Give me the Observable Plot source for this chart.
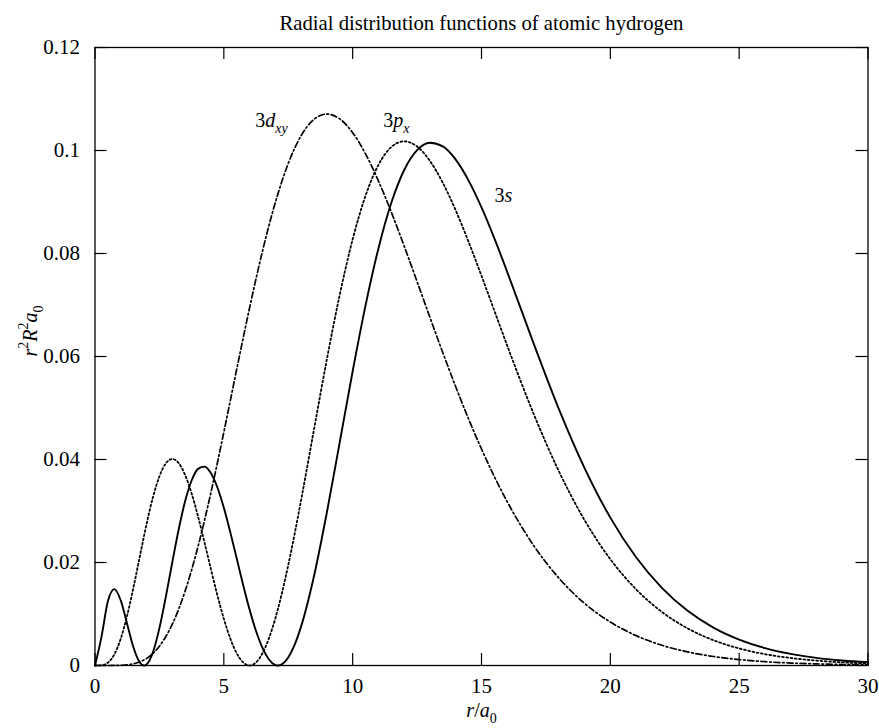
<!DOCTYPE html>
<html><head><meta charset="utf-8">
<script src="https://cdn.jsdelivr.net/npm/d3@7"></script>
<script src="https://cdn.jsdelivr.net/npm/@observablehq/plot@0.6"></script>
<style>html,body{margin:0;padding:0;background:#fff} svg{display:block}</style>
</head><body><div id="chart"></div>
<script>
// r / a0 sample positions
const rValues = [0,0.25,0.5,0.75,1,1.25,1.5,1.75,1.9,2,2.25,2.5,2.75,3,3.25,3.5,3.75,4,4.25,4.5,4.75,5,5.25,5.5,5.75,6,6.25,6.5,6.75,7,7.1,7.25,7.5,7.75,8,8.5,9,9.5,10,10.5,11,11.5,12,12.5,13,13.5,14,14.5,15,15.5,16,17,18,19,20,21,22,23,24,25,26,27,28,29,30];
// 3s
const s3Values = [0,0.00550,0.01246,0.01483,0.01263,0.00802,0.00341,0.00051,0,0.00021,0.00261,0.00726,0.01337,0.02005,0.02647,0.03193,0.03592,0.03818,0.03862,0.03734,0.03457,0.03063,0.02590,0.02078,0.01565,0.01085,0.00669,0.00341,0.00117,0.00009,0,0.00022,0.00156,0.00405,0.00760,0.01738,0.02975,0.04340,0.05713,0.06992,0.08099,0.08984,0.09622,0.10007,0.10151,0.10080,0.09823,0.09416,0.08895,0.08293,0.07640,0.06284,0.04984,0.03834,0.02871,0.02101,0.01507,0.01061,0.00735,0.00502,0.00338,0.00225,0.00148,0.00097,0.00062];
// 3p_x
const p3Values = [0,0.00004,0.00055,0.00215,0.00522,0.00973,0.01533,0.02144,0.02509,0.02743,0.03269,0.03673,0.03926,0.04010,0.03929,0.03697,0.03340,0.02892,0.02389,0.01867,0.01363,0.00906,0.00524,0.00238,0.00060,0,0.00060,0.00238,0.00527,0.00918,0.01099,0.01397,0.01950,0.02561,0.03215,0.04587,0.05949,0.07203,0.08277,0.09123,0.09720,0.10067,0.10178,0.10077,0.09797,0.09371,0.08836,0.08225,0.07567,0.06888,0.06209,0.04916,0.03775,0.02824,0.02064,0.01479,0.01041,0.00720,0.00492,0.00331,0.00220,0.00145,0.00095,0.00061,0.00039];
// 3d_xy
const dxyValues = [0,0,0.000001,0.00001,0.00004,0.00013,0.00034,0.00073,0.00108,0.00137,0.00235,0.00375,0.00563,0.00802,0.01097,0.01449,0.01856,0.02314,0.02818,0.03361,0.03935,0.04531,0.05140,0.05752,0.06357,0.06947,0.07512,0.08046,0.08541,0.08994,0.09158,0.09397,0.09748,0.10046,0.10288,0.10606,0.10708,0.10613,0.10346,0.09934,0.09409,0.08803,0.08143,0.07454,0.06758,0.06073,0.05412,0.04787,0.04204,0.03667,0.03179,0.02348,0.01699,0.01206,0.00843,0.00580,0.00393,0.00264,0.00175,0.00115,0.00074,0.00048,0.00031,0.00019,0.00012];

const xTicks = [0,5,10,15,20,25,30];
const xTickLabels = ["0","5","10","15","20","25","30"];
const yTicks = [0,0.02,0.04,0.06,0.08,0.1,0.12];
const yTickLabels = ["0","0.02","0.04","0.06","0.08","0.1","0.12"];
const titleText = "Radial distribution functions of atomic hydrogen";
const labelR = [6.22, 11.19, 15.5];
const labelV = [0.1045, 0.1045, 0.0900];
const labelText = ["3{i:d}{isub:xy}", "3{i:p}{isub:x}", "3{i:s}"];
const xLabel = "{i:r}/{i:a}{sub:0}";
const yLabel = "{i:r}{sup:2}{i:R}{sup:2}{i:a}{sub:0}";

const rows = rValues.map((r, i) => ({r, s: s3Values[i], p: p3Values[i], d: dxyValues[i]}));
const curveLabels = labelR.map((r, i) => ({r, v: labelV[i], text: labelText[i]}));

const W = 879, H = 728, mL = 94.5, mR = 11.5, mT = 47, mB = 63;
const PW = W - mL - mR, PH = H - mT - mB;
const FONT = '"Liberation Serif","Times New Roman",Times,serif';
const FS = 20;
const K = "#000";

const svg = Plot.plot({
  width: W, height: H,
  marginLeft: mL, marginRight: mR, marginTop: mT, marginBottom: mB,
  style: {fontFamily: FONT, fontSize: FS + "px", background: "#fff", color: K, overflow: "visible"},
  x: {domain: [0, 30]},
  y: {domain: [0, 0.12]},
  marks: [
    Plot.line(rows, {x: "r", y: "d", stroke: K, strokeWidth: 1.7, strokeDasharray: "6,2.7,1.7,2.7", curve: "monotone-x"}),
    Plot.line(rows, {x: "r", y: "p", stroke: K, strokeWidth: 1.8, strokeDasharray: "1.8,2.5", curve: "monotone-x"}),
    Plot.line(rows, {x: "r", y: "s", stroke: K, strokeWidth: 1.9, curve: "monotone-x"}),
    Plot.tickY(yTicks, {y: d => d, stroke: K, strokeWidth: 1.2, insetRight: PW - 12}),
    Plot.tickY(yTicks, {y: d => d, stroke: K, strokeWidth: 1.2, insetLeft: PW - 12}),
    Plot.tickX(xTicks, {x: d => d, stroke: K, strokeWidth: 1.2, insetTop: PH - 12}),
    Plot.tickX(xTicks, {x: d => d, stroke: K, strokeWidth: 1.2, insetBottom: PH - 12}),
    Plot.frame({stroke: K, strokeWidth: 1.3}),
    Plot.axisX({ticks: xTicks, tickSize: 0, tickPadding: 13, label: null, fontSize: 21,
      tickFormat: d => xTickLabels[xTicks.findIndex(t => Math.abs(t - d) < 1e-9)]}),
    Plot.axisY({ticks: yTicks, tickSize: 0, tickPadding: 15, label: null, fontSize: 21,
      tickFormat: d => yTickLabels[yTicks.findIndex(t => Math.abs(t - d) < 1e-9)]}),
    Plot.text(curveLabels, {x: "r", y: "v", text: "text", textAnchor: "start", lineAnchor: "bottom", fontSize: FS, fill: K}),
    Plot.text([titleText], {text: d => d, frameAnchor: "top", lineAnchor: "bottom", dy: -18, fontSize: 20.7, fill: K}),
    Plot.text([xLabel], {text: d => d, frameAnchor: "bottom", lineAnchor: "bottom", dy: 51, fontSize: FS, fill: K}),
    Plot.text([yLabel], {text: d => d, frameAnchor: "left", rotate: -90, lineAnchor: "bottom", dx: -58.5, fontSize: FS, fill: K})
  ]
});

// rich text: italics, sub/superscripts as tspans
const NS = "http://www.w3.org/2000/svg";
function richify(el) {
  const s = el.textContent;
  while (el.firstChild) el.removeChild(el.firstChild);
  const re = /\{(\w+):([^}]*)\}|([^{]+)/g;
  let m, shift = 0;
  while ((m = re.exec(s))) {
    const kind = m[1] || "n";
    const str = m[1] ? m[2] : m[3];
    const ts = document.createElementNS(NS, "tspan");
    let target = 0;
    if (kind === "i") ts.setAttribute("font-style", "italic");
    if (kind === "sub" || kind === "isub") {
      target = 0.3 * FS;
      ts.setAttribute("font-size", 0.7 * FS);
      if (kind === "isub") ts.setAttribute("font-style", "italic");
    }
    if (kind === "sup") {
      target = -0.42 * FS;
      ts.setAttribute("font-size", 0.7 * FS);
    }
    if (target !== shift) ts.setAttribute("dy", target - shift);
    shift = target;
    ts.textContent = str;
    el.appendChild(ts);
  }
}
svg.querySelectorAll("text").forEach(el => {
  if (el.querySelector("tspan") == null && el.textContent.includes("{")) richify(el);
});
document.getElementById("chart").appendChild(svg);
</script>
</body></html>
